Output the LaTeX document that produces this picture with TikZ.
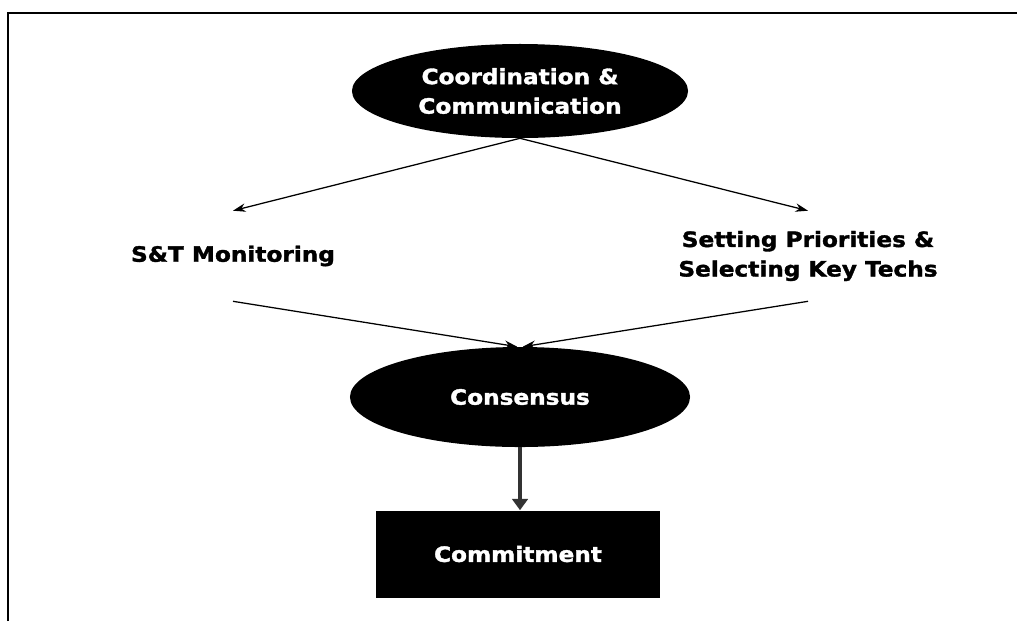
\documentclass[tikz,border=0pt]{standalone}
\usepackage{fontspec}
\setmainfont{DejaVu Sans}[BoldFeatures={FakeBold=1.6,FakeStretch=1.1}]
\usetikzlibrary{shapes.geometric,arrows.meta}

\begin{document}
\begin{tikzpicture}[
        x=0.025cm, y=-0.025cm,
        oval/.style={
            ellipse,
            fill=black,
            text=white,
            align=center,
            inner sep=0pt,
            font=\fontsize{15}{21}\selectfont\bfseries
        },
        label/.style={
            align=center,
            minimum height=2.25cm,
            inner sep=0pt,
            font=\fontsize{15}{21}\selectfont\bfseries
        },
        arrow/.style={
            -{Stealth[length=9pt,width=6pt]},
            line width=0.9pt
        },
        bigarrow/.style={
            -{Triangle[length=8pt,width=11pt]},
            line width=2.6pt,
            black!80
        }
    ]

        \useasboundingbox (0,0) rectangle (1017,621);
        \draw[line width=1.4pt] (8,621) -- (8,13) -- (1017,13);

        \node[oval, minimum width=8.4cm, minimum height=2.35cm] (coord) at (520,91) {Coordination \&\\Communication};
        \node[label] (mon) at (233,256) {S\&T Monitoring};
        \node[label] (prio) at (808,256) {Setting Priorities \&\\Selecting Key Techs};
        \node[oval, minimum width=8.5cm, minimum height=2.5cm] (cons) at (520,397) {Consensus};
        \node[rectangle, fill=black, text=white, minimum width=7.1cm, minimum height=2.175cm,
              font=\fontsize{15}{21}\selectfont\bfseries] (commit) at (518,554) {Commitment};

        \draw[arrow] (coord.south) -- (mon.north);
        \draw[arrow] (coord.south) -- (prio.north);
        \draw[arrow] (mon.south) -- ([xshift=-2pt]cons.north);
        \draw[arrow] (prio.south) -- ([xshift=2pt]cons.north);
        \draw[bigarrow] (cons.south) -- (cons.south |- commit.north);

    \end{tikzpicture}
\end{document}
